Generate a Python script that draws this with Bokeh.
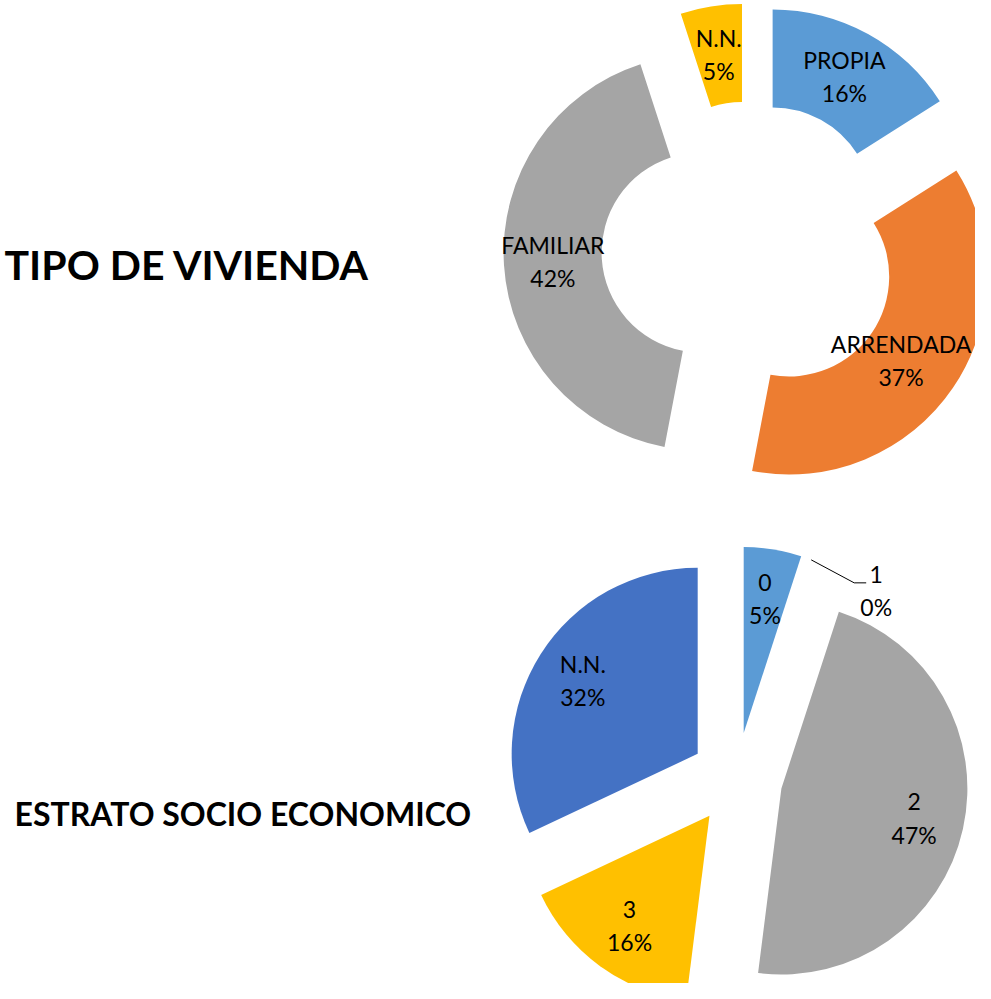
import numpy as np
from bokeh.plotting import figure
from bokeh.models import Range1d, ColumnDataSource
from bokeh.core.properties import value
from bokeh.embed import file_html
from bokeh.resources import INLINE

# ---------------- data ----------------
viv_title = "TIPO DE VIVIENDA"
viv_cats = ["PROPIA", "ARRENDADA", "FAMILIAR", "N.N."]
viv_vals = [16, 37, 42, 5]
viv_colors = ["#5B9BD5", "#ED7D31", "#A5A5A5", "#FFC000"]

est_title = "ESTRATO SOCIO ECONOMICO"
est_cats = ["0", "1", "2", "3", "N.N."]
est_vals = [5, 0, 47, 16, 32]
est_colors = ["#5B9BD5", "#ED7D31", "#A5A5A5", "#FFC000", "#4472C4"]

FONT = "Lato"
LABEL_SIZE = 23

W, H = 975, 983
p = figure(width=W, height=H, output_backend="svg", toolbar_location=None,
           x_range=Range1d(0, W), y_range=Range1d(-H, 0),
           min_border=0)
p.axis.visible = False
p.grid.visible = False
p.outline_line_color = None
p.background_fill_color = "white"


def layout_slices(vals, cx, cy, explode, label_r):
    vals = np.asarray(vals, dtype=float)
    frac = vals / vals.sum()
    ends = np.cumsum(frac) * 2 * np.pi
    starts = ends - frac * 2 * np.pi
    mids = (starts + ends) / 2
    mm = np.pi / 2 - mids
    sx = cx + explode * np.cos(mm)
    sy = cy + explode * np.sin(mm)
    return dict(
        x=sx, y=sy,
        start_angle=np.pi / 2 - ends, end_angle=np.pi / 2 - starts,
        lx=sx + label_r * np.cos(mm), ly=sy + label_r * np.sin(mm),
        mm=mm,
    )


def add_labels(cats, vals, lx, ly, gap=16.5):
    # keep each label fully inside the frame
    half = np.array([0.345 * LABEL_SIZE * max(len(c), 3) for c in cats])
    lx = np.minimum(np.asarray(lx, dtype=float), W - 3 - half)
    src = ColumnDataSource(dict(
        x=list(lx), y1=list(np.asarray(ly) + gap), y2=list(np.asarray(ly) - gap),
        name=list(cats), pct=[f"{v}%" for v in vals]))
    for col, ycol in (("name", "y1"), ("pct", "y2")):
        p.text(x="x", y=ycol, text=col, source=src,
               text_align="center", text_baseline="middle",
               text_font=value(FONT), text_font_size=f"{LABEL_SIZE}px",
               text_color="#000000")


# ---------------- donut: TIPO DE VIVIENDA ----------------
d = layout_slices(viv_vals, 749, -249, 48, 149)
keep = [i for i, v in enumerate(viv_vals) if v > 0]
src = ColumnDataSource(dict(
    x=d["x"][keep], y=d["y"][keep],
    sa=d["start_angle"][keep], ea=d["end_angle"][keep],
    color=[viv_colors[i] for i in keep]))
p.annular_wedge(x="x", y="y", inner_radius=100, outer_radius=198,
                start_angle="sa", end_angle="ea", fill_color="color",
                line_color=None, source=src)
add_labels(viv_cats, viv_vals, d["lx"], d["ly"])

p.text(x=[4], y=[-264], text=[viv_title], text_align="left",
       text_baseline="middle", text_font=value(FONT),
       text_font_style="bold", text_font_size="41px", text_color="#000000")

# ---------------- pie: ESTRATO SOCIO ECONOMICO ----------------
R2 = 186
e = layout_slices(est_vals, 736, -778, 46, 136)
keep = [i for i, v in enumerate(est_vals) if v > 0]
src2 = ColumnDataSource(dict(
    x=e["x"][keep], y=e["y"][keep],
    sa=e["start_angle"][keep], ea=e["end_angle"][keep],
    color=[est_colors[i] for i in keep]))
p.wedge(x="x", y="y", radius=R2, start_angle="sa", end_angle="ea",
        fill_color="color", line_color=None, source=src2)
add_labels([est_cats[i] for i in keep], [est_vals[i] for i in keep],
           e["lx"][keep], e["ly"][keep])

# outside label with leader line for zero-valued slices
for i, v in enumerate(est_vals):
    if v == 0:
        ox = e["x"][i] + R2 * np.cos(e["mm"][i]) + 3
        oy = e["y"][i] + R2 * np.sin(e["mm"][i]) - 2
        ex, ey = ox + 43, oy - 23
        p.line(x=[ox, ex, ex + 12], y=[oy, ey, ey], line_color="#000000",
               line_width=1)
        add_labels([est_cats[i]], [v], np.array([ex + 22]), np.array([ey - 8]))

p.text(x=[14], y=[-813], text=[est_title], text_align="left",
       text_baseline="middle", text_font=value(FONT),
       text_font_style="bold", text_font_size="32px", text_color="#000000")

open("out.html", "w").write(file_html(p, INLINE))
